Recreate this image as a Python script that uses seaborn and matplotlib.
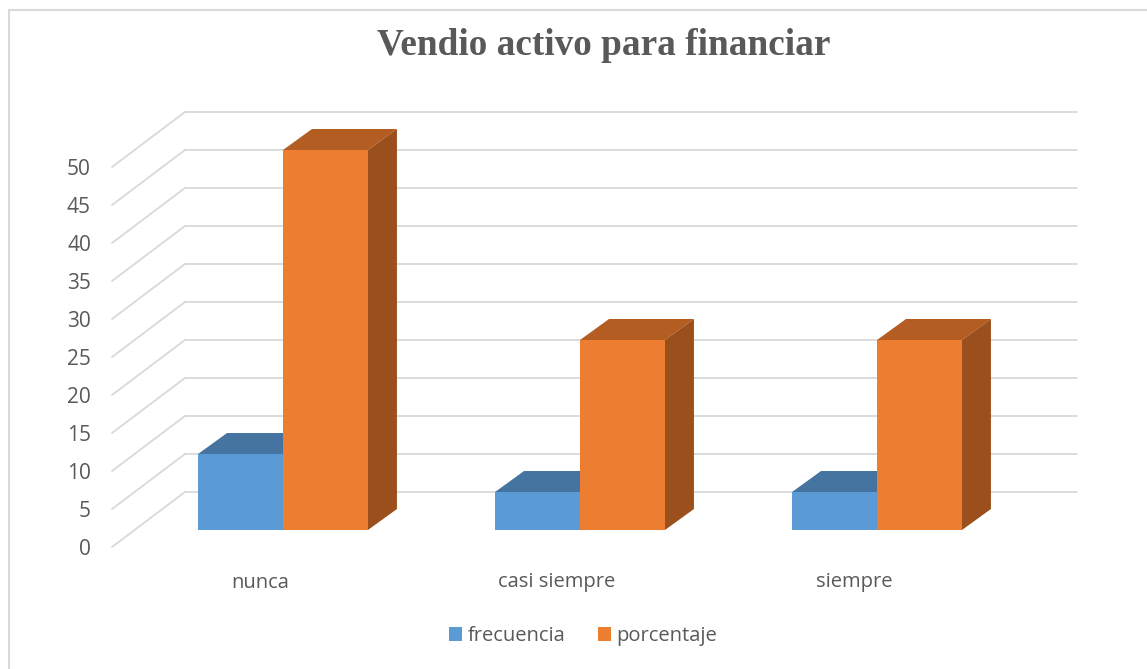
import matplotlib
matplotlib.use("Agg")
import matplotlib.pyplot as plt
import seaborn as sns
import pandas as pd
import numpy as np
from matplotlib.patches import Polygon
from matplotlib.lines import Line2D

# ---- data ----
categories = ["nunca", "casi siempre", "siempre"]
series_names = ["frecuencia", "porcentaje"]
frecuencia = [10, 5, 5]
porcentaje = [50, 25, 25]
y_ticks = [0, 5, 10, 15, 20, 25, 30, 35, 40, 45, 50]
title = "Vendio activo para financiar"

front_colors = {"frecuencia": "#5B9BD5", "porcentaje": "#ED7D31"}
top_colors = {"frecuencia": "#44749F", "porcentaje": "#B45D22"}
side_colors = {"frecuencia": "#3A6389", "porcentaje": "#9A4F1C"}
text_color = "#595959"
grid_color = "#D9D9D9"

df = pd.DataFrame({
    "categoria": categories * 2,
    "serie": [series_names[0]] * 3 + [series_names[1]] * 3,
    "valor": frecuencia + porcentaje,
})

W, H = 1147, 669
sns.set_theme(style="white")
plt.rcParams["font.family"] = ["Open Sans", "DejaVu Sans"]

fig = plt.figure(figsize=(W / 100, H / 100), dpi=100)
ax = fig.add_axes([0, 0, 1, 1])

sns.barplot(data=df, x="categoria", y="valor", hue="serie",
            palette=front_colors, width=0.572, ax=ax, legend=True,
            saturation=1, linewidth=0, errorbar=None)

# pixel geometry -> data units
px_x = 297.0      # pixels per category unit
px_y = 7.6        # pixels per value unit
x0_px, y0_px = 283.0, 530.0
ax.set_xlim(-x0_px / px_x, (W - x0_px) / px_x)
ax.set_ylim(-(H - y0_px) / px_y, y0_px / px_y)

# 3D depth offsets (data units)
ddx = 29 / px_x
ddy = 21 / px_y
# back wall offsets
wall_dy = 38 / px_y
wall_left = (185 - x0_px) / px_x
wall_right = (1077 - x0_px) / px_x
floor_left = (112 - x0_px) / px_x
floor_dy = -17 / px_y

for v in y_ticks:
    ax.add_line(Line2D([wall_left, wall_right], [v + wall_dy, v + wall_dy],
                       color=grid_color, lw=1.3, zorder=1))
    ax.add_line(Line2D([floor_left, wall_left], [v + floor_dy, v + wall_dy],
                       color=grid_color, lw=1.3, zorder=1))
    ax.text((91 - x0_px) / px_x, v + floor_dy, str(v), ha="right",
            va="center_baseline", fontsize=15, color=text_color)

# extrude bars
bars = [p for p in ax.patches if p.get_height() != 0 or p.get_width() != 0]
n = len(categories)
for i, p in enumerate(bars[:2 * n]):
    s = series_names[i // n]
    z = 3 if s == "frecuencia" else 5
    p.set_zorder(z)
    x, w, h = p.get_x(), p.get_width(), p.get_height()
    top = Polygon([(x, h), (x + ddx, h + ddy), (x + w + ddx, h + ddy), (x + w, h)],
                  closed=True, facecolor=top_colors[s], edgecolor="none", zorder=z - 0.5)
    side = Polygon([(x + w, 0), (x + w, h), (x + w + ddx, h + ddy), (x + w + ddx, ddy)],
                   closed=True, facecolor=side_colors[s], edgecolor="none", zorder=z - 0.5)
    ax.add_patch(top)
    ax.add_patch(side)

# category labels on floor front
for i, c in enumerate(categories):
    ax.text(i - 23 / px_x, -50 / px_y, c, ha="center", va="center_baseline",
            fontsize=14.5, color=text_color)

ax.set_axis_off()

# legend
sns.move_legend(ax, "center", bbox_to_anchor=(583 / W, 1 - 636 / H), ncol=2,
                frameon=False, title=None, fontsize=14.5, handlelength=0.65,
                handleheight=0.65, handletextpad=0.3, columnspacing=1.6,
                labelcolor=text_color)

# title
fig.text(604 / W, 1 - 55 / H, title, ha="center", va="baseline",
         fontsize=26.8, fontweight="bold", color=text_color,
         family=["Liberation Serif", "DejaVu Serif"])

# outer border (top and left)
fig.add_artist(Line2D([8.5 / W, 1], [1 - 9.5 / H, 1 - 9.5 / H],
                      transform=fig.transFigure, color=grid_color, lw=1.5))
fig.add_artist(Line2D([8.5 / W, 8.5 / W], [0, 1 - 9.5 / H],
                      transform=fig.transFigure, color=grid_color, lw=1.5))

fig.savefig("out.png", dpi=100, facecolor="white")
